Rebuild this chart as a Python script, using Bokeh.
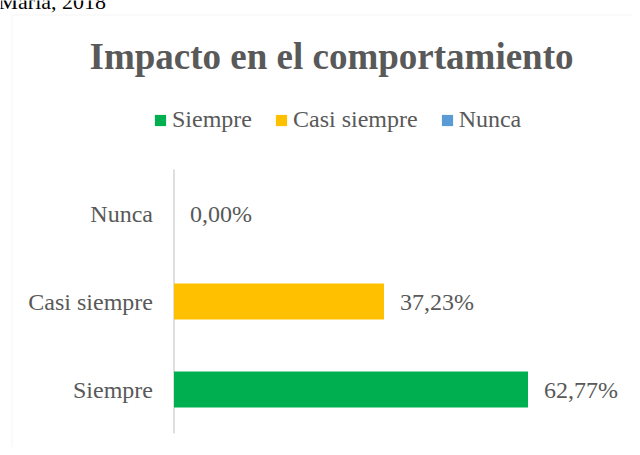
from bokeh.plotting import figure
from bokeh.models import ColumnDataSource, Label, BoxAnnotation, Range1d
from bokeh.core.properties import value
from bokeh.embed import file_html
from bokeh.resources import INLINE

categories = ["Siempre", "Casi siempre", "Nunca"]
values = [62.77, 37.23, 0.00]
colors = ["#00B050", "#FFC000", "#5B9BD5"]
value_labels = [f"{v:.2f}".replace(".", ",") + "%" for v in values]

FONT = "Liberation Serif"
GRAY = "#595959"
LBL = "24px"

W, H = 632, 447
# layout: pixel position of x=0, pixels per percent; category row pitch and first row centre
X0_PX, PX_PER_PCT = 173.5, 5.64
ROW0_PX, ROW_PITCH = 389.0, 88.0

idx = list(range(len(categories)))
src = ColumnDataSource(dict(i=idx, cat=categories, val=values, col=colors, lab=value_labels))

p = figure(width=W, height=H, output_backend="svg", toolbar_location=None,
           x_axis_type=None, y_axis_type=None,
           x_range=Range1d(-X0_PX / PX_PER_PCT, (W - X0_PX) / PX_PER_PCT),
           y_range=Range1d(-(H - ROW0_PX) / ROW_PITCH, ROW0_PX / ROW_PITCH),
           min_border_left=0, min_border_right=0, min_border_top=0, min_border_bottom=0)
p.outline_line_color = None
p.background_fill_color = "white"
p.border_fill_color = "white"
p.grid.visible = False

# chart area border
p.add_layout(BoxAnnotation(left=11.5, right=W + 20, top=H - 14.5, bottom=-20,
                           left_units="screen", right_units="screen",
                           top_units="screen", bottom_units="screen",
                           fill_color=None, line_color="#d9d9d9", line_width=1))

# category axis line
p.segment(x0=[0], x1=[0], y0=[idx[0] - 0.5], y1=[idx[-1] + 0.5],
          line_color="#d4d4d4", line_width=1.5)

r = p.hbar(y="i", right="val", left=0, height=0.41, fill_color="col", line_color=None,
           source=src, legend_field="cat")

# category labels
p.text(x=0, y="i", text="cat", source=src, x_offset=-21,
       text_baseline="middle", text_align="right",
       text_font=value(FONT), text_font_size=LBL, text_color=GRAY)
# value labels
p.text(x="val", y="i", text="lab", source=src, x_offset=16,
       text_baseline="middle", text_align="left",
       text_font=value(FONT), text_font_size=LBL, text_color=GRAY)

# legend
leg = p.legend[0]
leg.orientation = "horizontal"
leg.location = (153, 314)
leg.border_line_color = None
leg.background_fill_color = None
leg.background_fill_alpha = 0
leg.padding = 0
leg.margin = 0
leg.spacing = 22
leg.glyph_width = 14
leg.glyph_height = 14
leg.label_standoff = 5
leg.label_text_font = FONT
leg.label_text_font_size = LBL
leg.label_text_color = GRAY

# title
p.add_layout(Label(x=331, y=H - 56, x_units="screen", y_units="screen",
                   text="Impacto en el comportamiento", text_align="center",
                   text_baseline="alphabetic", text_font=FONT, text_font_size="37px",
                   text_font_style="bold", text_color=GRAY))

# source fragment at top-left (cut by the top edge, as in the original)
p.add_layout(Label(x=-2, y=H - 1, x_units="screen", y_units="screen",
                   text="María, 2018", text_align="left", text_baseline="alphabetic",
                   text_font=FONT, text_font_size="22px", text_color="#000000"))

open("out.html", "w").write(file_html(p, INLINE))
